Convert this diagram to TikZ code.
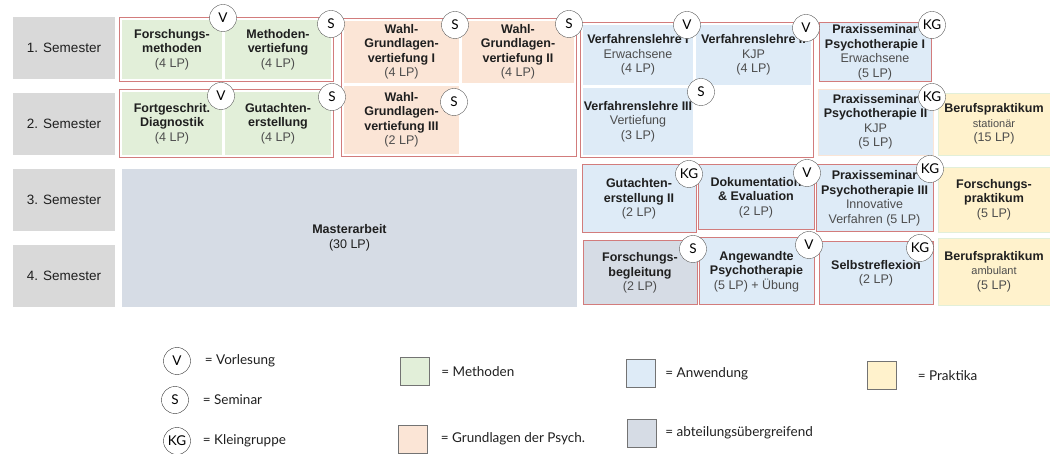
\documentclass[tikz,border=0pt]{standalone}
\usepackage{fontspec}
\setmainfont{Liberation Sans}
\newfontfamily\latofont{Lato}
\usetikzlibrary{positioning,fit}

\definecolor{semC}{HTML}{D9D9D9}
\definecolor{methC}{HTML}{E2EFD9}
\definecolor{grundC}{HTML}{FBE5D6}
\definecolor{anwC}{HTML}{DEEBF7}
\definecolor{abtC}{HTML}{D6DCE5}
\definecolor{praxC}{HTML}{FFF2CC}
\definecolor{grpC}{HTML}{D27C7C}
\definecolor{textC}{HTML}{1F1F1F}
\definecolor{subC}{HTML}{4D4D4D}
\definecolor{tagC}{HTML}{595959}

\newcommand{\subtxt}[1]{{\mdseries\color{subC}#1}}

\begin{document}
\begin{tikzpicture}[x=1pt,y=-1pt]
\tikzstyle{sem}=[fill=semC, minimum width=102, minimum height=62, text=textC, font=\fontsize{13.5}{15}\selectfont, node distance=76pt]
\tikzstyle{cell}=[inner sep=0pt, align=center, text=textC, font=\bfseries\fontsize{12.5}{14.5}\selectfont]
\tikzstyle{grp}=[draw=grpC, line width=1pt, inner sep=2pt]
\tikzstyle{redbox}=[draw=grpC, line width=1pt]
\tikzstyle{tag}=[circle, draw=tagC, fill=white, minimum size=27, inner sep=0pt, font=\latofont\fontsize{13.5}{14}\selectfont]
\tikzstyle{key}=[draw=black!55, minimum width=29, minimum height=28]
\tikzstyle{keytxt}=[anchor=west, inner sep=0pt, text=textC, font=\latofont\fontsize{13.5}{15}\selectfont]

\useasboundingbox (0,0) rectangle (1050,454);

% semester labels
\node[sem] (sem1) at (64,48) {1. Semester};
\node[sem, below of=sem1] (sem2) {2. Semester};
\node[sem, below of=sem2] (sem3) {3. Semester};
\node[sem, below of=sem3] (sem4) {4. Semester};

% Methoden
\node[cell, fill=methC, minimum width=100, minimum height=59] (fm) at (172,49.5) {Forschungs-\\methoden\\\subtxt{(4 LP)}};
\node[cell, fill=methC, minimum width=106, minimum height=59] (mv) at (278,49.5) {Methoden-\\vertiefung\\\subtxt{(4 LP)}};
\node[cell, fill=methC, minimum width=100, minimum height=63] (fd) at (172,123.5) {Fortgeschrit.\\Diagnostik\\\subtxt{(4 LP)}};
\node[cell, fill=methC, minimum width=106, minimum height=63] (ge) at (278,123.5) {Gutachten-\\erstellung\\\subtxt{(4 LP)}};

% Grundlagen
\node[cell, fill=grundC, minimum width=115, minimum height=62] (wg1) at (401.5,52) {Wahl-\\Grundlagen-\\vertiefung I\\\subtxt{(4 LP)}};
\node[cell, fill=grundC, minimum width=112, minimum height=62] (wg2) at (518,52) {Wahl-\\Grundlagen-\\vertiefung II\\\subtxt{(4 LP)}};
\node[cell, fill=grundC, minimum width=115, minimum height=68] (wg3) at (401.5,120) {Wahl-\\Grundlagen-\\vertiefung III\\\subtxt{(2 LP)}};

% Anwendung
\node[cell, fill=anwC, minimum width=110, minimum height=60] (vl1) at (638,55) {Verfahrenslehre I\\\subtxt{Erwachsene}\\\subtxt{(4 LP)}};
\node[cell, fill=anwC, minimum width=115, minimum height=60] (vl2) at (753.5,55) {Verfahrenslehre II\\\subtxt{KJP}\\\subtxt{(4 LP)}};
\node[cell, fill=anwC, minimum width=110, minimum height=67] (vl3) at (638,121.5) {Verfahrenslehre III\\\subtxt{Vertiefung}\\\subtxt{(3 LP)}};
\node[cell, redbox, fill=anwC, minimum width=112, minimum height=59] (ps1) at (875,52.5) {Praxisseminar\\Psychotherapie I\\\subtxt{Erwachsene}\\\subtxt{(5 LP)}};
\node[cell, draw=grundC, fill=anwC, minimum width=115, minimum height=66] (ps2) at (875.5,122) {Praxisseminar\\Psychotherapie II\\\subtxt{KJP}\\\subtxt{(5 LP)}};
\node[cell, redbox, fill=anwC, minimum width=114, minimum height=68] (ge2) at (639,199) {Gutachten-\\erstellung II\\\subtxt{(2 LP)}};
\node[cell, redbox, fill=anwC, minimum width=116, minimum height=65] (doku) at (756,197.5) {Dokumentation\\\& Evaluation\\\subtxt{(2 LP)}};
\node[cell, redbox, fill=anwC, minimum width=117, minimum height=67] (ps3) at (874.5,198.5) {Praxisseminar\\Psychotherapie III\\\subtxt{Innovative}\\\subtxt{Verfahren (5 LP)}};
\node[cell, redbox, fill=abtC, minimum width=114, minimum height=64] (fb) at (640,273) {Forschungs-\\begleitung\\\subtxt{(2 LP)}};
\node[cell, redbox, fill=anwC, minimum width=115, minimum height=67] (ap) at (756.5,271.5) {Angewandte\\Psychotherapie\\\subtxt{(5 LP) + Übung}};
\node[cell, redbox, fill=anwC, minimum width=114, minimum height=63] (sr) at (876,273.5) {Selbstreflexion\\\subtxt{(2 LP)}};

% Praktika
\node[cell, draw=methC, fill=praxC, minimum width=112, minimum height=62] (bps) at (994,124) {Berufspraktikum\\\subtxt{\fontsize{11}{13}\selectfont stationär}\\\subtxt{(15 LP)}};
\node[cell, draw=methC, fill=praxC, minimum width=112, minimum height=65] (fp) at (994,199.5) {Forschungs-\\praktikum\\\subtxt{(5 LP)}};
\node[cell, draw=methC, fill=praxC, minimum width=112, minimum height=67] (bpa) at (994,271.5) {Berufspraktikum\\\subtxt{\fontsize{11}{13}\selectfont ambulant}\\\subtxt{(5 LP)}};

% Masterarbeit
\node[cell, fill=abtC, minimum width=455, minimum height=138] (ma) at (349.5,238) {Masterarbeit\\{\mdseries (30 LP)}};

% group outlines
\node[grp, fit=(fm)(mv)] (gm1) {};
\node[grp, fit=(fd)(ge)] (gm2) {};
\node[grp, fit=(wg1)(wg2)(wg3)] (gg) {};
\node[grp, fit=(vl1)(vl2)(vl3)] (ga) {};

% course type tags
\node[tag] (tfm) at (223,18) {V};
\node[tag] (tmv) at (331,24) {S};
\node[tag] (tfd) at (221,96) {V};
\node[tag] (tge) at (332,97) {S};
\node[tag] (twg1) at (455,25) {S};
\node[tag] (twg2) at (569,24) {S};
\node[tag] (twg3) at (454,102) {S};
\node[tag] (tvl1) at (687,25) {V};
\node[tag] (tvl2) at (806,28) {V};
\node[tag] (tvl3) at (701,92) {S};
\node[tag] (tps1) at (932,25) {KG};
\node[tag] (tps2) at (932,97) {KG};
\node[tag] (tge2) at (689,174) {KG};
\node[tag] (tdoku) at (807,173) {V};
\node[tag] (tps3) at (930,169) {KG};
\node[tag] (tfb) at (693,249) {S};
\node[tag] (tap) at (809,245) {V};
\node[tag] (tsr) at (920,248) {KG};

% legend
\node[tag, draw=black!80] (lv) at (177,361) {V};
\node[keytxt, right=14pt of lv] (lvt) {= Vorlesung};
\node[tag, draw=black!80] (ls) at (175,400) {S};
\node[keytxt, right=14pt of ls] (lst) {= Seminar};
\node[tag, draw=black!80] (lkg) at (177,441) {KG};
\node[keytxt, right=12pt of lkg] (lkgt) {= Kleingruppe};

\node[key, fill=methC] (kmeth) at (414.5,371.5) {};
\node[keytxt, right=12pt of kmeth] (kmetht) {= Methoden};
\node[key, fill=grundC] (kgrund) at (413,439) {};
\node[keytxt, right=13pt of kgrund] (kgrundt) {= Grundlagen der Psych.};
\node[key, fill=anwC] (kanw) at (640.5,373.5) {};
\node[keytxt, right=10pt of kanw] (kanwt) {= Anwendung};
\node[key, fill=abtC] (kabt) at (641.5,433) {};
\node[keytxt, right=9pt of kabt] (kabtt) {= abteilungsübergreifend};
\node[key, fill=praxC] (kprax) at (882,375.5) {};
\node[keytxt, right=21pt of kprax] (kpraxt) {= Praktika};
\end{tikzpicture}
\end{document}
